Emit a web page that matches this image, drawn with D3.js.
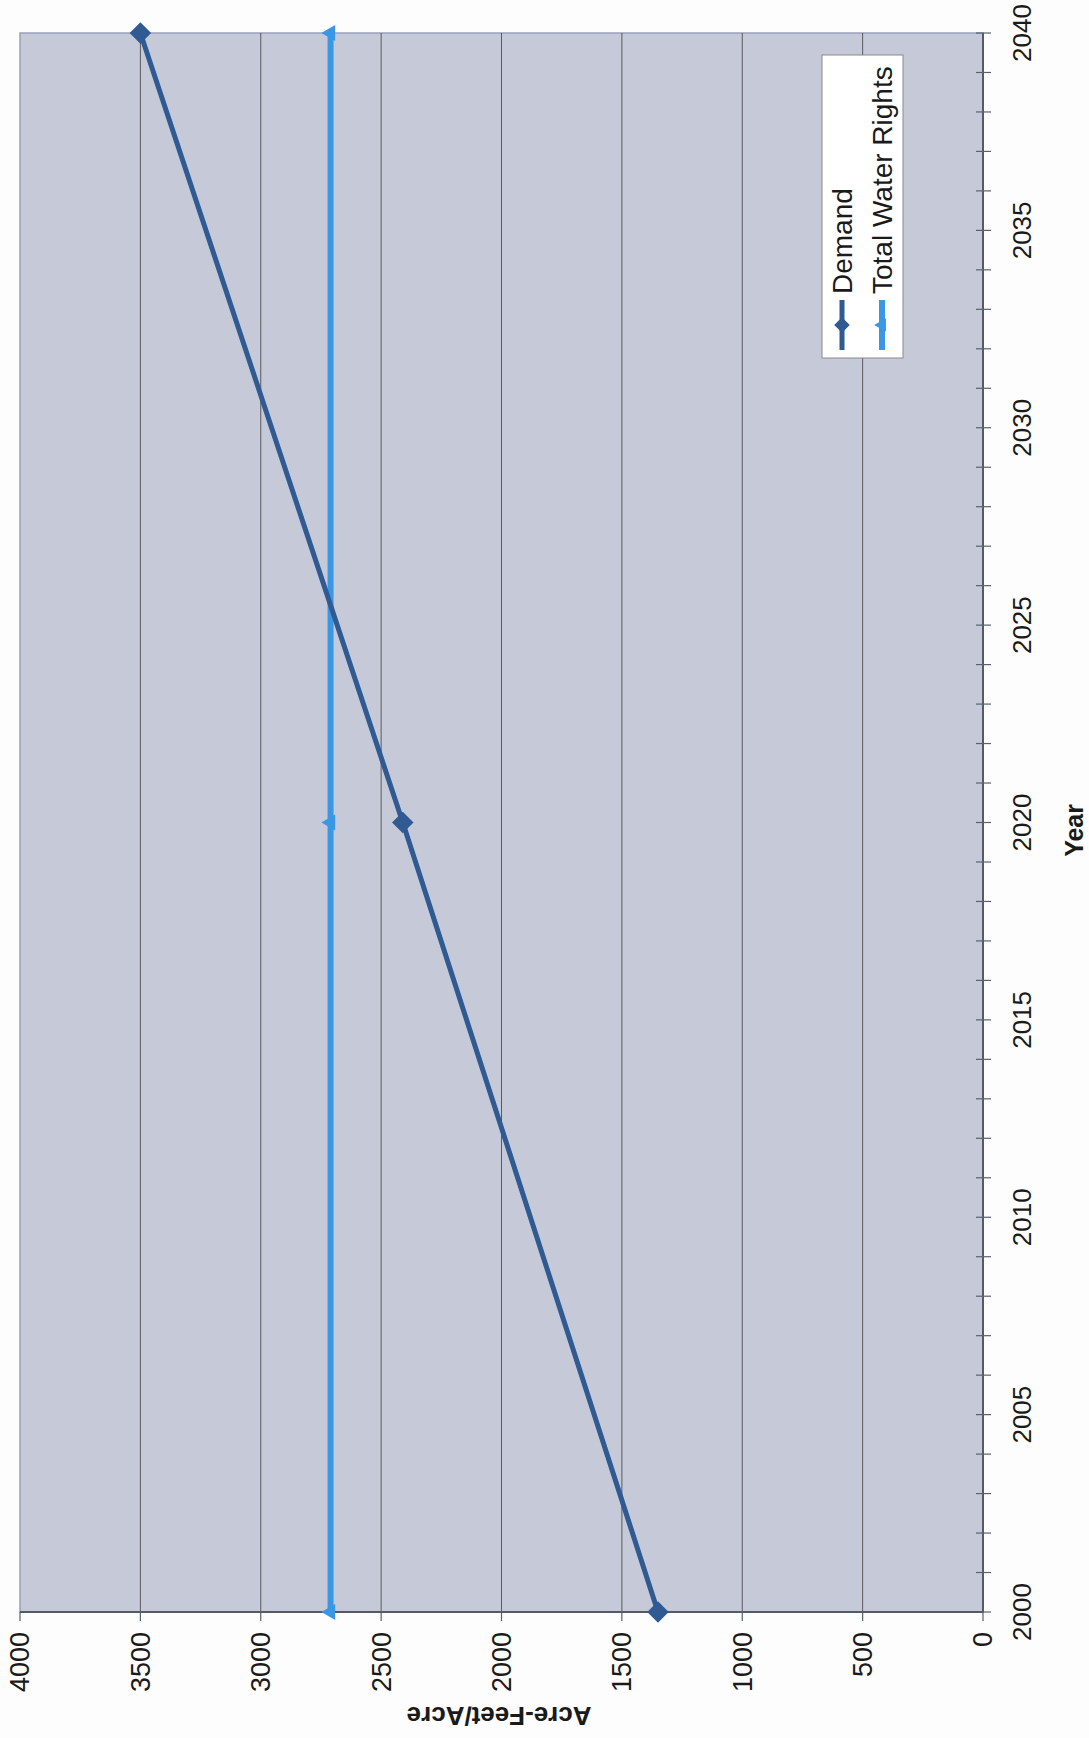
<!DOCTYPE html>
<html>
<head>
<meta charset="utf-8">
<script src="https://cdn.jsdelivr.net/npm/d3@7/dist/d3.min.js"></script>
<style>
  html, body { margin: 0; padding: 0; background: #ffffff; }
  svg { display: block; }
  text { font-family: "Liberation Sans", Arial, sans-serif; fill: #1a1a1a; }
</style>
</head>
<body>
<svg id="chart" width="1089" height="1738"></svg>
<script>
// ---- data ----
const years = [2000, 2020, 2040];
const demand = [1350, 2410, 3500];
const waterRights = [2710, 2710, 2710];
const seriesNames = ["Demand", "Total Water Rights"];
const valueTicks = [0, 500, 1000, 1500, 2000, 2500, 3000, 3500, 4000];
const yearLabelTicks = [2000, 2005, 2010, 2015, 2020, 2025, 2030, 2035, 2040];
const xTitle = "Year";
const yTitle = "Acre-Feet/Acre";

// ---- layout (chart drawn in its original orientation, then rotated -90deg) ----
const svg = d3.select("#chart");
const W = 1579, H = 963;        // plot size in the unrotated frame
const originX = 20, originY = 1612;

svg.append("rect").attr("width", 1089).attr("height", 1738).attr("fill", "#fdfdfd");

const g = svg.append("g").attr("transform", `translate(${originX},${originY}) rotate(-90)`);

const x = d3.scaleLinear().domain([2000, 2040]).range([0, W]);
const y = d3.scaleLinear().domain([0, 4000]).range([H, 0]);

const demandColor = "#2f5a92";
const rightsColor = "#3a97e4";

// plot background
g.append("rect").attr("x", 0).attr("y", 0).attr("width", W).attr("height", H)
  .attr("fill", "#c6c9d8").attr("stroke", "#9aa0bb").attr("stroke-width", 1.5);

// gridlines
g.append("g").selectAll("line").data(valueTicks.filter(v => v > 0 && v < 4000)).join("line")
  .attr("x1", 0).attr("x2", W)
  .attr("y1", d => y(d)).attr("y2", d => y(d))
  .attr("stroke", "#3f3f3f").attr("stroke-width", 1).attr("stroke-opacity", 0.8);

// x axis (years) - ticks crossing the axis at each year
const xAxis = g.append("g").attr("transform", `translate(0,${H})`);
xAxis.append("line").attr("x1", 0).attr("x2", W).attr("stroke", "#555a66").attr("stroke-width", 2);
xAxis.selectAll("line.tk").data(d3.range(2000, 2041)).join("line").attr("class", "tk")
  .attr("x1", d => x(d)).attr("x2", d => x(d))
  .attr("y1", -7).attr("y2", 8)
  .attr("stroke", "#5a6070").attr("stroke-width", 1.2);
xAxis.selectAll("text").data(yearLabelTicks).join("text")
  .attr("x", d => x(d)).attr("y", 48)
  .attr("text-anchor", "middle")
  .attr("font-size", 26)
  .text(d => d);

// y axis (values)
const yAxis = g.append("g");
yAxis.append("line").attr("y1", 0).attr("y2", H).attr("stroke", "#555a66").attr("stroke-width", 2);
yAxis.selectAll("line.tk").data(valueTicks).join("line").attr("class", "tk")
  .attr("x1", -9).attr("x2", 0)
  .attr("y1", d => y(d)).attr("y2", d => y(d))
  .attr("stroke", "#5a6070").attr("stroke-width", 1.2);
yAxis.selectAll("text").data(valueTicks).join("text")
  .attr("x", -20).attr("y", d => y(d)).attr("dy", "0.35em")
  .attr("text-anchor", "end")
  .attr("font-size", 27)
  .text(d => d);

// axis titles
g.append("text").attr("x", x(2019.8)).attr("y", H + 100)
  .attr("text-anchor", "middle").attr("font-size", 25).attr("font-weight", "bold")
  .text(xTitle);
g.append("text")
  .attr("transform", `translate(-95,${y(2010)}) rotate(-90)`)
  .attr("text-anchor", "middle").attr("font-size", 26).attr("font-weight", "bold")
  .text(yTitle);

// lines
const line = d3.line().x(d => x(d[0])).y(d => y(d[1]));
const rightsData = years.map((yr, i) => [yr, waterRights[i]]);
const demandData = years.map((yr, i) => [yr, demand[i]]);

g.append("path").datum(rightsData).attr("d", line)
  .attr("fill", "none").attr("stroke", rightsColor).attr("stroke-width", 6);
g.append("g").selectAll("path").data(rightsData).join("path")
  .attr("transform", d => `translate(${x(d[0])},${y(d[1])})`)
  .attr("d", d3.symbol(d3.symbolTriangle, 110)())
  .attr("fill", rightsColor);

g.append("path").datum(demandData).attr("d", line)
  .attr("fill", "none").attr("stroke", demandColor).attr("stroke-width", 5);
g.append("g").selectAll("path").data(demandData).join("path")
  .attr("transform", d => `translate(${x(d[0])},${y(d[1])}) rotate(45)`)
  .attr("d", d3.symbol(d3.symbolSquare, 230)())
  .attr("fill", demandColor);

// legend (in unrotated frame)
const lg = g.append("g").attr("transform", "translate(1254,802)");
lg.append("rect").attr("width", 303).attr("height", 81)
  .attr("fill", "#ffffff").attr("stroke", "#8a8a8a").attr("stroke-width", 1);
const rows = [
  { name: seriesNames[0], color: demandColor, sym: d3.symbolSquare, size: 120, rot: 45, w: 5 },
  { name: seriesNames[1], color: rightsColor, sym: d3.symbolTriangle, size: 80, rot: 0, w: 6 }
];
rows.forEach((r, i) => {
  const cy = 20 + i * 40;
  lg.append("line").attr("x1", 8).attr("x2", 58).attr("y1", cy).attr("y2", cy)
    .attr("stroke", r.color).attr("stroke-width", r.w);
  lg.append("path").attr("transform", `translate(33,${cy}) rotate(${r.rot})`)
    .attr("d", d3.symbol(r.sym, r.size)()).attr("fill", r.color);
  lg.append("text").attr("x", 64).attr("y", cy).attr("dy", "0.36em")
    .attr("font-size", 28).text(r.name);
});
</script>
</body>
</html>
